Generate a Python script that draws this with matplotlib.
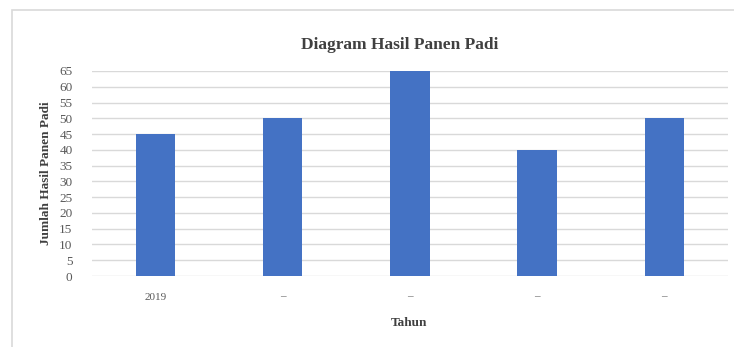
import numpy as np
import matplotlib.pyplot as plt
from matplotlib.patches import Rectangle

# data
tahun = ["2019", "\u2013", "\u2013", "\u2013", "\u2013"]
hasil_panen = [45, 50, 65, 40, 50]
y_ticks = list(range(0, 70, 5))

plt.rcParams['font.family'] = ['Liberation Serif', 'DejaVu Serif']

fig = plt.figure(figsize=(7.34, 3.47), dpi=100)
ax = fig.add_axes([0.1253, 0.2046, 0.8665, 0.5908])

# chart frame (only left and top edges fall inside the picture)
fig.patches.append(Rectangle((12 / 734, -0.1), 1.2, 1.1 - 10 / 347, transform=fig.transFigure,
                             fill=False, edgecolor="#d9d9d9", linewidth=1.2))

x = np.arange(len(tahun))
ax.bar(x, hasil_panen, width=0.31, color="#4472C4", zorder=3)

ax.set_xlim(-0.5, len(tahun) - 0.5)
ax.set_ylim(0, 65)
ax.set_yticks(y_ticks)
ax.set_xticks(x)
ax.set_xticklabels(tahun, color="#595959", fontsize=8)
ax.tick_params(axis="y", labelsize=9.5, colors="#595959", length=0, pad=14)
ax.tick_params(axis="x", length=0, pad=12)
ax.grid(axis="y", color="#d9d9d9", linewidth=1, zorder=0)
for s in ax.spines.values():
    s.set_visible(False)

fig.text(0.545, 0.87, "Diagram Hasil Panen Padi", ha="center", va="center",
         fontsize=12.5, fontweight="bold", color="#404040")
fig.text(0.062, 0.50, "Jumlah Hasil Panen Padi", ha="center", va="center",
         rotation=90, fontsize=9.5, fontweight="bold", color="#404040")
fig.text(0.557, 0.068, "Tahun", ha="center", va="center",
         fontsize=9.5, fontweight="bold", color="#404040")

fig.savefig("out.png", dpi=100)
